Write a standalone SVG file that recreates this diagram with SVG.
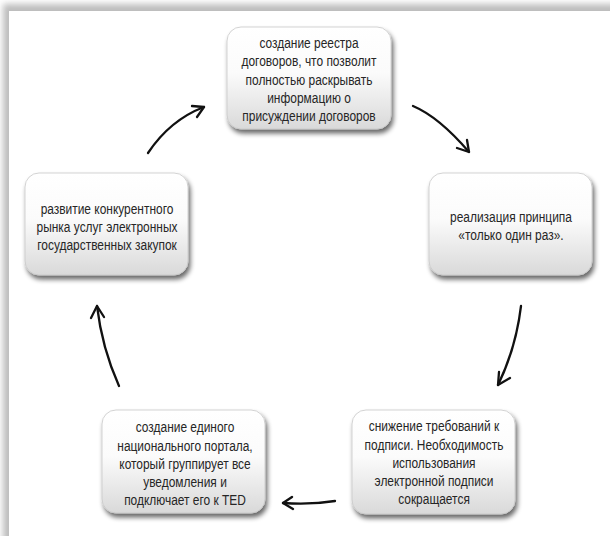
<svg xmlns="http://www.w3.org/2000/svg" width="610" height="536" viewBox="0 0 610 536">
<defs>
<linearGradient id="boxg" x1="0" y1="0" x2="0" y2="1">
<stop offset="0" stop-color="#ffffff"/>
<stop offset="0.45" stop-color="#fbfbfb"/>
<stop offset="1" stop-color="#d9d9d9"/>
</linearGradient>
<filter id="shadow" x="-20%" y="-20%" width="140%" height="150%">
<feGaussianBlur in="SourceAlpha" stdDeviation="2.5"/>
<feOffset dx="2" dy="4" result="b"/>
<feComponentTransfer><feFuncA type="linear" slope="0.6"/></feComponentTransfer>
<feMerge><feMergeNode/><feMergeNode in="SourceGraphic"/></feMerge>
</filter>
<filter id="pageblur" x="-5%" y="-5%" width="110%" height="110%">
<feGaussianBlur stdDeviation="3"/>
</filter>
</defs>
<style>
.box{fill:url(#boxg);stroke:#c8c8c8;stroke-width:0.8;filter:url(#shadow)}
.t{font-family:"Liberation Sans",Arial,sans-serif;font-size:15.5px;fill:#262626;text-anchor:middle}
.arr{fill:none;stroke:#111;stroke-width:2.3;stroke-linecap:round;stroke-linejoin:round}
</style>
<rect x="0" y="0" width="610" height="536" fill="#ffffff"/>
<rect x="3" y="4" width="700" height="700" fill="#bdbdbd" filter="url(#pageblur)"/>
<rect x="9" y="11" width="610" height="536" fill="#ffffff"/>

<g id="node-top">
<rect class="box" x="227" y="27" width="164" height="102" rx="14"/>
<g transform="translate(309,0) scale(0.77,1)">
<text class="t" x="0" y="48">создание реестра</text>
<text class="t" x="0" y="66">договоров, что позволит</text>
<text class="t" x="0" y="85">полностью раскрывать</text>
<text class="t" x="0" y="103">информацию о</text>
<text class="t" x="0" y="121">присуждении договоров</text>
</g>
</g>
<g id="node-right">
<rect class="box" x="429" y="173" width="163" height="102" rx="14"/>
<g transform="translate(511,0) scale(0.77,1)">
<text class="t" x="0" y="222">реализация принципа</text>
<text class="t" x="0" y="240">«только один раз».</text>
</g>
</g>
<g id="node-bottom-right">
<rect class="box" x="352" y="410" width="163" height="104" rx="14"/>
<g transform="translate(434,0) scale(0.77,1)">
<text class="t" x="0" y="431">снижение требований к</text>
<text class="t" x="0" y="450">подписи. Необходимость</text>
<text class="t" x="0" y="468">использования</text>
<text class="t" x="0" y="486">электронной подписи</text>
<text class="t" x="0" y="504">сокращается</text>
</g>
</g>
<g id="node-bottom-left">
<rect class="box" x="102" y="410" width="163" height="103" rx="14"/>
<g transform="translate(185,0) scale(0.77,1)">
<text class="t" x="0" y="432">создание единого</text>
<text class="t" x="0" y="451">национального портала,</text>
<text class="t" x="0" y="469">который группирует все</text>
<text class="t" x="0" y="487">уведомления и</text>
<text class="t" x="0" y="505">подключает его к TED</text>
</g>
</g>
<g id="node-left">
<rect class="box" x="25" y="173" width="163" height="102" rx="14"/>
<g transform="translate(107,0) scale(0.77,1)">
<text class="t" x="0" y="214">развитие конкурентного</text>
<text class="t" x="0" y="232">рынка услуг электронных</text>
<text class="t" x="0" y="250">государственных закупок</text>
</g>
</g>

<g id="connectors">
<path class="arr" d="M148,153 Q170,120 204,107"/>
<path class="arr" d="M192,106 L204,107 L197,117"/>
<path class="arr" d="M413,106 Q439,117 469,152"/>
<path class="arr" d="M457,148 L469,152 L467,140"/>
<path class="arr" d="M521,306 Q516,348 498,385"/>
<path class="arr" d="M499,372 L498,385 L510,378"/>
<path class="arr" d="M335,501 Q310,505 283,503"/>
<path class="arr" d="M292,497 L283,503 L293,509"/>
<path class="arr" d="M119,386 Q102,348 97,306"/>
<path class="arr" d="M91,318 L97,306 L104,317"/>
</g>
</svg>
